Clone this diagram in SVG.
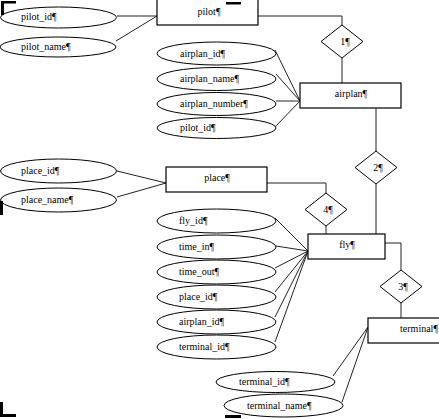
<svg xmlns="http://www.w3.org/2000/svg" width="439" height="419" viewBox="0 0 439 419">
<style>
.e{fill:#fff;stroke:#000;stroke-width:1}
.r{fill:#fff;stroke:#000;stroke-width:1.2}
.d{fill:#fff;stroke:#000;stroke-width:1}
.c{fill:none;stroke:#222;stroke-width:1}
text{font-family:"Liberation Serif","Times New Roman",serif;font-size:10px;fill:#000}
.m{text-anchor:middle}
.k{fill:#000}
</style>
<rect width="439" height="419" fill="#fff"/>
<g id="connectors">
<polyline class="c" points="258,16 342,16 342,25"/>
<line class="c" x1="342" y1="58" x2="342" y2="83"/>
<line class="c" x1="376" y1="108" x2="376" y2="151"/>
<line class="c" x1="376" y1="184" x2="376" y2="234"/>
<polyline class="c" points="267,183 326,183 326,193"/>
<line class="c" x1="326" y1="226" x2="326" y2="234"/>
<polyline class="c" points="385,243 401,243 401,270"/>
<line class="c" x1="401" y1="303" x2="401" y2="318"/>
<line class="c" x1="117" y1="16" x2="157" y2="16"/>
<line class="c" x1="116" y1="41" x2="157" y2="16"/>
<line class="c" x1="275" y1="50" x2="300" y2="101"/>
<line class="c" x1="276" y1="74" x2="300" y2="101"/>
<line class="c" x1="276" y1="101" x2="300" y2="101"/>
<line class="c" x1="275" y1="127" x2="300" y2="101"/>
<line class="c" x1="117" y1="171" x2="166" y2="183"/>
<line class="c" x1="117" y1="197" x2="166" y2="183"/>
<line class="c" x1="275" y1="218" x2="308" y2="251"/>
<line class="c" x1="276" y1="246" x2="308" y2="251"/>
<line class="c" x1="275" y1="268" x2="308" y2="251"/>
<line class="c" x1="275" y1="292" x2="308" y2="251"/>
<line class="c" x1="275" y1="317" x2="308" y2="251"/>
<line class="c" x1="275" y1="342" x2="308" y2="251"/>
<line class="c" x1="333" y1="376" x2="368" y2="327"/>
<line class="c" x1="342" y1="402" x2="368" y2="327"/>
</g>
<g id="pilot"><rect class="r" x="157" y="-1" width="101" height="26"/><text class="m" x="209" y="15">pilot¶</text></g>
<g id="airplan"><rect class="r" x="300" y="83" width="101" height="25"/><text class="m" x="351" y="97">airplan¶</text></g>
<g id="place"><rect class="r" x="166" y="167" width="101" height="25"/><text class="m" x="217" y="181">place¶</text></g>
<g id="fly"><rect class="r" x="308" y="234" width="77" height="25"/><text class="m" x="347" y="248">fly¶</text></g>
<g id="terminal"><rect class="r" x="368" y="318" width="101" height="25"/><text class="m" x="419" y="332">terminal¶</text></g>
<g id="rel1"><polygon class="d" points="342,25 363,41.5 342,58 321,41.5"/><text class="m" x="345" y="45">1¶</text></g>
<g id="rel2"><polygon class="d" points="376,151 397,167.5 376,184 355,167.5"/><text class="m" x="378" y="171">2¶</text></g>
<g id="rel4"><polygon class="d" points="326,193 347,209.5 326,226 305,209.5"/><text class="m" x="328" y="213">4¶</text></g>
<g id="rel3"><polygon class="d" points="401,270 422,286.5 401,303 380,286.5"/><text class="m" x="403" y="290">3¶</text></g>
<g id="pilot_id"><ellipse class="e" cx="58.5" cy="17.5" rx="58" ry="10.5"/><text x="21" y="20">pilot_id¶</text></g>
<g id="pilot_name"><ellipse class="e" cx="58" cy="47" rx="58" ry="10"/><text x="21" y="50">pilot_name¶</text></g>
<g id="airplan_id"><ellipse class="e" cx="216.5" cy="53.5" rx="59.5" ry="11.5"/><text x="180" y="57">airplan_id¶</text></g>
<g id="airplan_name"><ellipse class="e" cx="216.5" cy="79" rx="59.5" ry="11.5"/><text x="180" y="82">airplan_name¶</text></g>
<g id="airplan_number"><ellipse class="e" cx="216.5" cy="104" rx="59.5" ry="11.5"/><text x="180" y="107">airplan_number¶</text></g>
<g id="airplan_pilot_id"><ellipse class="e" cx="216.5" cy="128" rx="59.5" ry="10.5"/><text x="180" y="131">pilot_id¶</text></g>
<g id="place_id"><ellipse class="e" cx="58.5" cy="171" rx="58" ry="12"/><text x="21" y="174">place_id¶</text></g>
<g id="place_name"><ellipse class="e" cx="58.5" cy="200" rx="58" ry="12"/><text x="21" y="203">place_name¶</text></g>
<g id="fly_id"><ellipse class="e" cx="216.5" cy="221" rx="59.5" ry="12"/><text x="179" y="224">fly_id¶</text></g>
<g id="time_in"><ellipse class="e" cx="216.5" cy="247" rx="59.5" ry="12"/><text x="179" y="250">time_in¶</text></g>
<g id="time_out"><ellipse class="e" cx="216.5" cy="272" rx="59.5" ry="12"/><text x="179" y="275">time_out¶</text></g>
<g id="fly_place_id"><ellipse class="e" cx="216.5" cy="297" rx="59.5" ry="12"/><text x="179" y="300">place_id¶</text></g>
<g id="fly_airplan_id"><ellipse class="e" cx="216.5" cy="322" rx="59.5" ry="12"/><text x="179" y="325">airplan_id¶</text></g>
<g id="fly_terminal_id"><ellipse class="e" cx="216.5" cy="347" rx="59.5" ry="12"/><text x="179" y="350">terminal_id¶</text></g>
<g id="terminal_id"><ellipse class="e" cx="275.5" cy="382" rx="59.5" ry="10.5"/><text x="239" y="385">terminal_id¶</text></g>
<g id="terminal_name"><ellipse class="e" cx="283.5" cy="405.5" rx="59.5" ry="11.5"/><text x="247" y="409">terminal_name¶</text></g>
<g id="marks">
<rect class="k" x="1" y="1" width="15" height="2.5"/>
<rect class="k" x="1" y="1" width="3" height="14"/>
<rect class="k" x="226" y="2" width="15" height="2.5"/>
<rect class="k" x="0" y="201" width="3" height="14"/>
<rect class="k" x="0" y="402" width="3" height="15"/>
<rect class="k" x="0" y="414" width="16" height="3"/>
<rect class="k" x="225" y="415" width="16" height="3"/>
</g>
</svg>
